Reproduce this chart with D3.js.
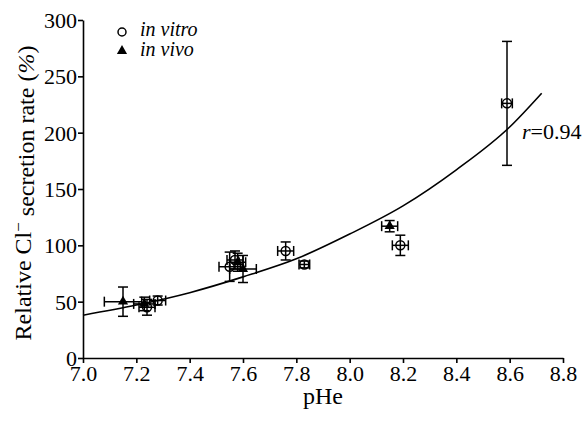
<!DOCTYPE html>
<html>
<head>
<meta charset="utf-8">
<script src="https://cdn.jsdelivr.net/npm/d3@7"></script>
<style>
  body { margin: 0; background: #fff; }
</style>
</head>
<body>
<div id="chart"></div>
<script>
// in vitro (open circles): pHe, rate, x error, y error
var vitroPHe = [7.24, 7.28, 7.55, 7.57, 7.76, 7.83, 8.19, 8.59];
var vitroRate = [45, 51, 81, 87, 95, 83, 100, 226];
var vitroPHeErr = [0.03, 0.03, 0.04, 0.03, 0.03, 0.02, 0.03, 0.02];
var vitroRateErr = [7, 4, 13, 8, 8, 3, 9, 55];

// in vivo (filled triangles)
var vivoPHe = [7.15, 7.23, 7.58, 7.60, 8.15];
var vivoRate = [50, 48, 85, 79, 117];
var vivoPHeErr = [0.07, 0.04, 0.03, 0.05, 0.03];
var vivoRateErr = [13, 6, 8, 12, 5];

// fitted curve
var fitPHe = [7.0, 7.2, 7.4, 7.6, 7.8, 8.0, 8.2, 8.4, 8.6, 8.72];
var fitRate = [38, 47, 58, 72, 88, 110, 135, 167, 205, 235];

var xTicks = [7.0, 7.2, 7.4, 7.6, 7.8, 8.0, 8.2, 8.4, 8.6, 8.8];
var yTicks = [0, 50, 100, 150, 200, 250, 300];

var width = 586, height = 421;
var margin = {left: 83, right: 23, top: 20, bottom: 63};
var serif = 'Liberation Serif';

var svg = d3.select('#chart')
    .append('svg')
    .attr('width', width)
    .attr('height', height)
    .style('font-family', serif);

var x = d3.scaleLinear().domain([7.0, 8.8]).range([margin.left, width - margin.right]);
var y = d3.scaleLinear().domain([0, 300]).range([height - margin.bottom, margin.top]);

var xAxis = svg.append('g')
    .attr('transform', 'translate(0,' + (height - margin.bottom) + ')')
    .call(d3.axisBottom(x).tickValues(xTicks).tickFormat(d3.format('.1f')).tickSize(5).tickSizeOuter(0));
var yAxis = svg.append('g')
    .attr('transform', 'translate(' + margin.left + ',0)')
    .call(d3.axisLeft(y).tickValues(yTicks).tickSize(5).tickSizeOuter(0));

[xAxis, yAxis].forEach(function (ax) {
    ax.attr('font-family', null).attr('font-size', null);
    ax.selectAll('path, line').attr('stroke', '#000').attr('stroke-width', 1.6);
    ax.selectAll('text').style('font-size', '22px').attr('fill', '#000');
});
xAxis.selectAll('text').attr('dy', '0.9em').attr('y', 3);
yAxis.selectAll('text').attr('x', -6).attr('dy', '0.34em');

// axis titles
svg.append('text')
    .attr('x', (margin.left + width - margin.right) / 2)
    .attr('y', 404)
    .attr('text-anchor', 'middle')
    .style('font-size', '24px')
    .text('pHe');

var yt = svg.append('text')
    .attr('transform', 'translate(31,' + 193 + ') rotate(-90)')
    .attr('text-anchor', 'middle')
    .style('font-size', '24px');
yt.append('tspan').text('Relative Cl');
yt.append('tspan').attr('dy', '-0.4em').style('font-size', '17px').text('\u2212');
yt.append('tspan').attr('dy', '0.4em').text(' secretion rate (');
yt.append('tspan').style('font-style', 'italic').text('%');
yt.append('tspan').text(')');

// fitted curve
var fit = fitPHe.map(function (d, i) { return [d, fitRate[i]]; });
svg.append('path')
    .datum(fit)
    .attr('fill', 'none')
    .attr('stroke', '#000')
    .attr('stroke-width', 1.6)
    .attr('d', d3.line()
        .x(function (d) { return x(d[0]); })
        .y(function (d) { return y(d[1]); })
        .curve(d3.curveMonotoneX));

function errorBars(px, py, ex, ey) {
    var g = svg.append('g').attr('stroke', '#000').attr('stroke-width', 1.5);
    px.forEach(function (d, i) {
        var cx = x(d), cy = y(py[i]);
        var x0 = x(d - ex[i]), x1 = x(d + ex[i]);
        var y0 = y(py[i] - ey[i]), y1 = y(py[i] + ey[i]);
        g.append('line').attr('x1', cx).attr('x2', cx).attr('y1', y0).attr('y2', y1);
        g.append('line').attr('x1', cx - 5).attr('x2', cx + 5).attr('y1', y0).attr('y2', y0);
        g.append('line').attr('x1', cx - 5).attr('x2', cx + 5).attr('y1', y1).attr('y2', y1);
        g.append('line').attr('x1', x0).attr('x2', x1).attr('y1', cy).attr('y2', cy);
        g.append('line').attr('x1', x0).attr('x2', x0).attr('y1', cy - 5).attr('y2', cy + 5);
        g.append('line').attr('x1', x1).attr('x2', x1).attr('y1', cy - 5).attr('y2', cy + 5);
    });
}

errorBars(vitroPHe, vitroRate, vitroPHeErr, vitroRateErr);
errorBars(vivoPHe, vivoRate, vivoPHeErr, vivoRateErr);

var tri = d3.symbol().type(d3.symbolTriangle).size(45);

svg.selectAll('.vitro')
    .data(vitroPHe)
    .enter()
    .append('circle')
    .attr('class', 'vitro')
    .attr('cx', function (d) { return x(d); })
    .attr('cy', function (d, i) { return y(vitroRate[i]); })
    .attr('r', 4.5)
    .attr('fill', 'none')
    .attr('stroke', '#000')
    .attr('stroke-width', 1.5);

svg.selectAll('.vivo')
    .data(vivoPHe)
    .enter()
    .append('path')
    .attr('class', 'vivo')
    .attr('d', tri)
    .attr('transform', function (d, i) { return 'translate(' + x(d) + ',' + y(vivoRate[i]) + ')'; })
    .attr('fill', '#000');

// legend
var legend = svg.append('g');
legend.append('circle')
    .attr('cx', 122).attr('cy', 32).attr('r', 4)
    .attr('fill', 'none').attr('stroke', '#000').attr('stroke-width', 1.5);
legend.append('text')
    .attr('x', 140).attr('y', 36)
    .style('font-size', '20px').style('font-style', 'italic')
    .text('in vitro');
legend.append('path')
    .attr('d', tri)
    .attr('transform', 'translate(122,51)')
    .attr('fill', '#000');
legend.append('text')
    .attr('x', 140).attr('y', 56)
    .style('font-size', '20px').style('font-style', 'italic')
    .text('in vivo');

// correlation label
var rl = svg.append('text')
    .attr('x', 522).attr('y', 139)
    .style('font-size', '22px');
rl.append('tspan').style('font-style', 'italic').text('r');
rl.append('tspan').text('=0.94');
</script>
</body>
</html>
